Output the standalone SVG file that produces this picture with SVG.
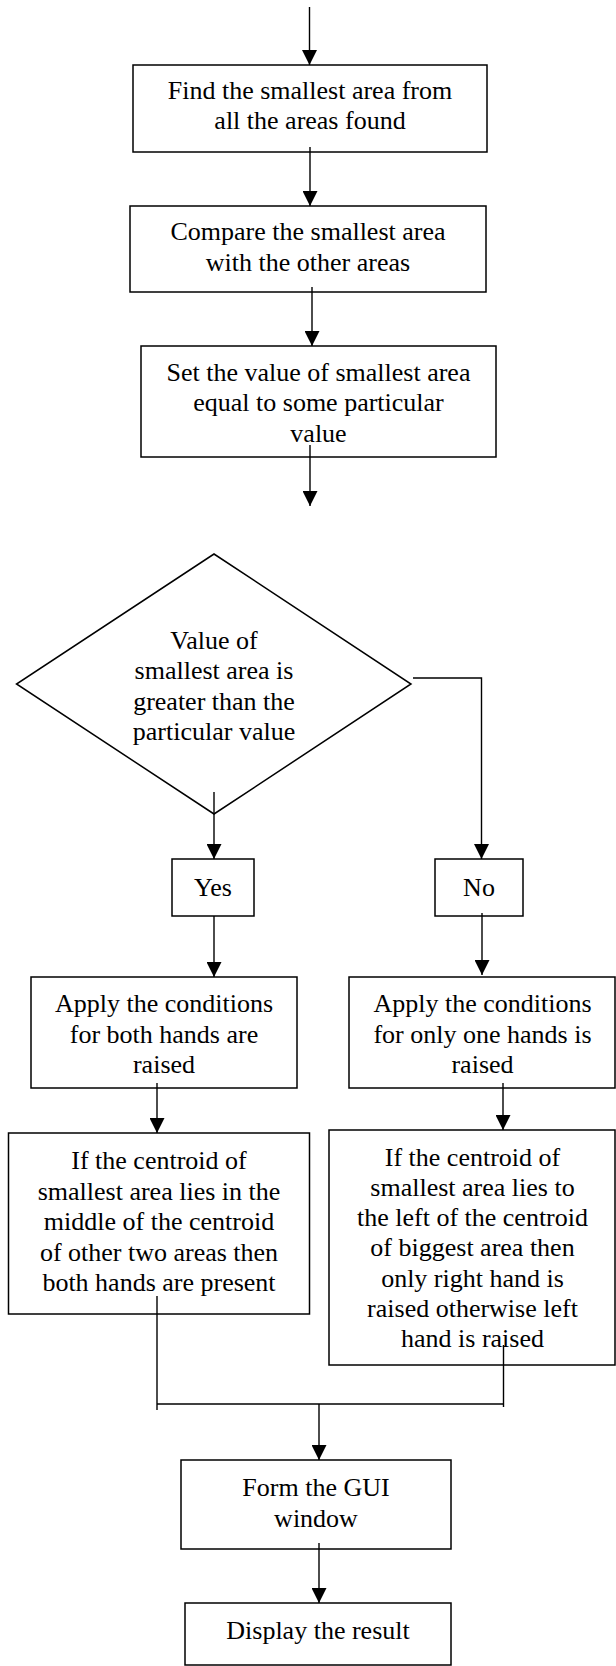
<svg xmlns="http://www.w3.org/2000/svg" width="616" height="1666" viewBox="0 0 616 1666">
<style>
.box{fill:#fff;stroke:#000;stroke-width:1.5}
.t{font-family:"Liberation Serif","Times New Roman",serif;font-size:26px;fill:#000;text-anchor:middle}
.c{fill:none;stroke:#000;stroke-width:1.4}
</style>
<defs>
<marker id="ah" viewBox="0 0 15 15" refX="15" refY="7.5" markerWidth="15" markerHeight="15" markerUnits="userSpaceOnUse" orient="auto">
<path d="M0,0 L15,7.5 L0,15 Z" fill="#000"/>
</marker>
</defs>
<rect width="616" height="1666" fill="#fff"/>
<g id="n1"><rect class="box" x="133" y="65" width="354" height="87"/>
<text class="t" x="310" y="99">Find the smallest area from</text>
<text class="t" x="310" y="129">all the areas found</text></g>
<g id="n2"><rect class="box" x="130" y="206" width="356" height="86"/>
<text class="t" x="308" y="240">Compare the smallest area</text>
<text class="t" x="308" y="271">with the other areas</text></g>
<g id="n3"><rect class="box" x="141" y="346" width="355" height="111"/>
<text class="t" x="318.5" y="381">Set the value of smallest area</text>
<text class="t" x="318.5" y="411">equal to some particular</text>
<text class="t" x="318.5" y="442">value</text></g>
<g id="d1"><polygon class="box" points="214,554 411,684 214,814 16.5,684"/>
<text class="t" x="214" y="649">Value of</text>
<text class="t" x="214" y="679">smallest area is</text>
<text class="t" x="214" y="709.5">greater than the</text>
<text class="t" x="214" y="740">particular value</text></g>
<g id="yes"><rect class="box" x="172" y="859" width="82" height="57"/>
<text class="t" x="213" y="896">Yes</text></g>
<g id="no"><rect class="box" x="435" y="859" width="88" height="57"/>
<text class="t" x="479" y="896">No</text></g>
<g id="a1"><rect class="box" x="31" y="977" width="266" height="111"/>
<text class="t" x="164" y="1012">Apply the conditions</text>
<text class="t" x="164" y="1043">for both hands are</text>
<text class="t" x="164" y="1073">raised</text></g>
<g id="a2"><rect class="box" x="349" y="977" width="266" height="111"/>
<text class="t" x="482.5" y="1012">Apply the conditions</text>
<text class="t" x="482.5" y="1043">for only one hands is</text>
<text class="t" x="482.5" y="1073">raised</text></g>
<g id="i1"><rect class="box" x="8.5" y="1133" width="301" height="181"/>
<text class="t" x="159" y="1169">If the centroid of</text>
<text class="t" x="159" y="1199.5">smallest area lies in the</text>
<text class="t" x="159" y="1230">middle of the centroid</text>
<text class="t" x="159" y="1260.5">of other two areas then</text>
<text class="t" x="159" y="1291">both hands are present</text></g>
<g id="i2"><rect class="box" x="329" y="1130" width="286" height="235"/>
<text class="t" x="472.5" y="1166">If the centroid of</text>
<text class="t" x="472.5" y="1196">smallest area lies to</text>
<text class="t" x="472.5" y="1226">the left of the centroid</text>
<text class="t" x="472.5" y="1256">of biggest area then</text>
<text class="t" x="472.5" y="1287">only right hand is</text>
<text class="t" x="472.5" y="1317">raised otherwise left</text>
<text class="t" x="472.5" y="1347">hand is raised</text></g>
<g id="f1"><rect class="box" x="181" y="1460" width="270" height="89"/>
<text class="t" x="316" y="1496">Form the GUI</text>
<text class="t" x="316" y="1527">window</text></g>
<g id="r1"><rect class="box" x="185" y="1603" width="266" height="62"/>
<text class="t" x="318" y="1639">Display the result</text></g>
<g id="connectors">
<line class="c" x1="309.5" y1="7" x2="309.5" y2="65" marker-end="url(#ah)"/>
<line class="c" x1="310" y1="147" x2="310" y2="206" marker-end="url(#ah)"/>
<line class="c" x1="312" y1="287" x2="312" y2="346" marker-end="url(#ah)"/>
<line class="c" x1="310" y1="445" x2="310" y2="506" marker-end="url(#ah)"/>
<line class="c" x1="214" y1="792" x2="214" y2="859" marker-end="url(#ah)"/>
<polyline class="c" points="413,678 481.5,678 481.5,859" marker-end="url(#ah)"/>
<line class="c" x1="214" y1="916" x2="214" y2="977" marker-end="url(#ah)"/>
<line class="c" x1="482" y1="913" x2="482" y2="975" marker-end="url(#ah)"/>
<line class="c" x1="157" y1="1083" x2="157" y2="1133" marker-end="url(#ah)"/>
<line class="c" x1="503" y1="1083" x2="503" y2="1130" marker-end="url(#ah)"/>
<polyline class="c" points="157,1296 157,1410"/>
<polyline class="c" points="503.5,1345 503.5,1407"/>
<line class="c" x1="157" y1="1404" x2="503.5" y2="1404"/>
<line class="c" x1="319" y1="1404" x2="319" y2="1460" marker-end="url(#ah)"/>
<line class="c" x1="319" y1="1543" x2="319" y2="1603" marker-end="url(#ah)"/>
</g>
</svg>
